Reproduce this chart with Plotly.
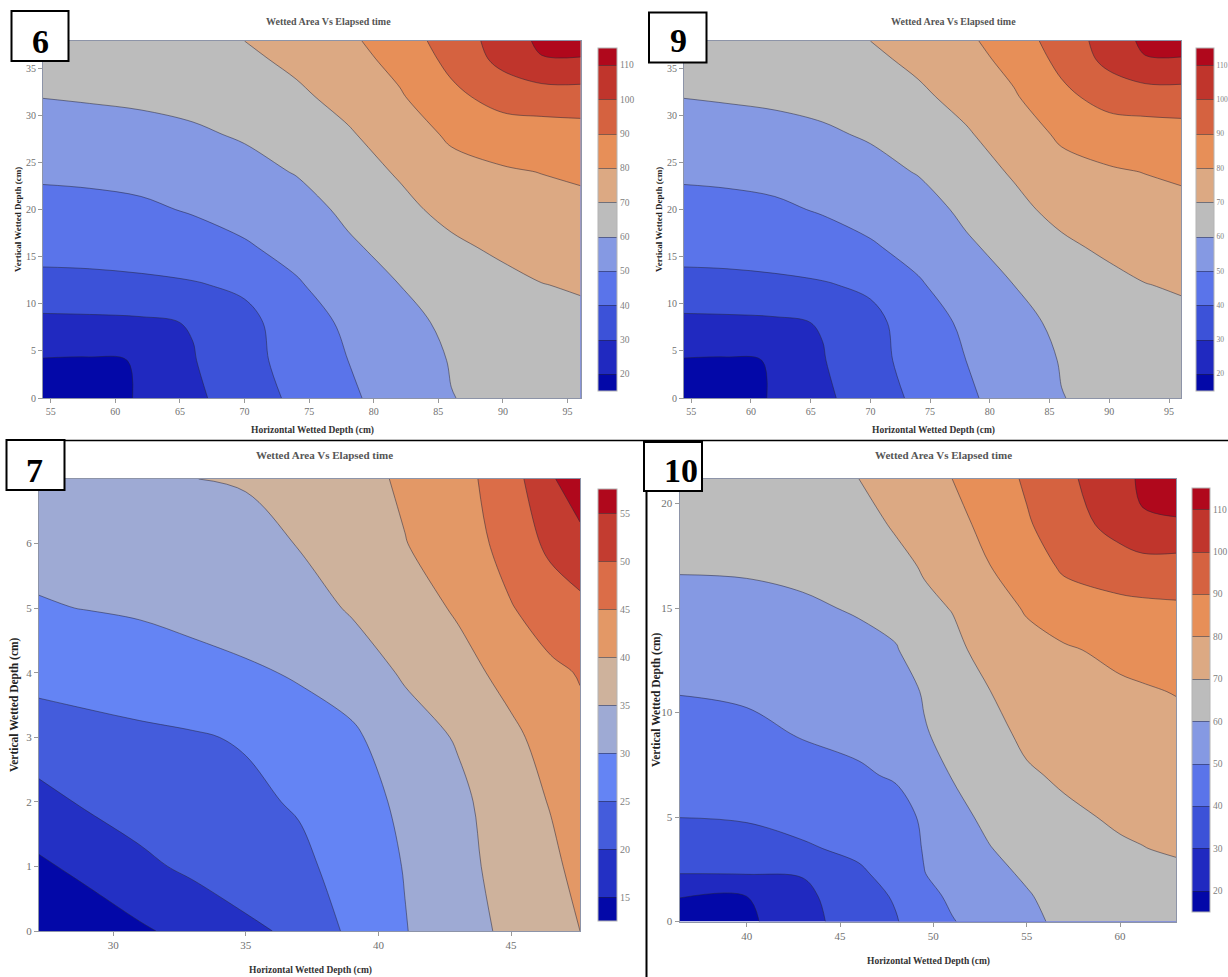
import plotly.graph_objects as go

W = 1228
H = 977

# panels 6 and 9 show the same surface
x_6 = [54.4, 58, 62, 66, 70, 74, 78, 82, 86, 90, 93, 96]
y_6 = [0, 4, 8, 12, 16, 20, 24, 28, 32, 36, 37.9]
y_6_ticks = [0, 5, 10, 15, 20, 25, 30, 35]
z_6 = [
    [12, 17, 20.6, 28, 35, 42, 48.5, 54, 59.8, 62, 64, 65],
    [19.5, 19.2, 20.3, 29.5, 36.5, 44, 50, 55, 60.5, 63.5, 65.5, 66.5],
    [27.8, 28, 28.5, 30.5, 37.5, 44.5, 52, 57, 62, 65, 67, 68],
    [36.8, 37.2, 38, 39.3, 41.5, 49, 55, 60, 64, 67, 69.8, 70.8],
    [43.5, 43.7, 44.5, 45.5, 49, 53, 58.5, 63.5, 68, 72, 73.3, 74.2],
    [47, 47.4, 48.4, 50.8, 53.3, 56, 62, 67.3, 73, 75.6, 76.7, 77.4],
    [51.5, 52, 53, 54.6, 57, 60.5, 65.5, 71, 77, 79, 80.2, 81.5],
    [55.9, 56.4, 57.3, 58.7, 61, 64.4, 69, 75, 81.5, 85, 85.5, 86],
    [60.2, 60.8, 61.5, 62.7, 64.6, 68.3, 73, 79, 87.7, 93.7, 95, 95.5],
    [64.5, 65, 65.7, 66.6, 68.3, 72, 76.5, 83, 92.6, 103, 109.5, 109.3],
    [66, 66.5, 67.2, 68, 70, 74, 78, 85.4, 94, 104.5, 112, 116],
]

x_7 = [27.2, 29, 31, 33, 35, 37, 39, 41, 43, 45, 46.5, 47.6]
y_7 = [0, 1, 2, 3, 4, 5, 6, 7]
y_7_ticks = [0, 1, 2, 3, 4, 5, 6]
z_7 = [
    [10, 12, 14.3, 16.6, 19, 21, 26.1, 29.8, 33.1, 36, 38.3, 40],
    [14.2, 16.3, 19, 20.9, 22.7, 23.8, 27.1, 30.2, 33.6, 36.8, 38.9, 41.5],
    [18.5, 20.6, 22, 22.7, 24, 25.5, 27.9, 31, 34, 37.5, 40.3, 43.2],
    [22.7, 23.6, 24.2, 24.6, 25.4, 28.2, 29.2, 32.8, 35.4, 39, 41.8, 43.8],
    [26.5, 26.8, 27.3, 28.4, 29.4, 30.4, 32.3, 35.6, 38.2, 41.6, 44, 45.3],
    [29.7, 30.1, 30.6, 31.4, 32.1, 32.9, 35.5, 37.7, 40.6, 44.7, 47.7, 48.9],
    [31.2, 31.6, 31.9, 32.9, 33.4, 35.2, 36.8, 39.9, 41.7, 47.3, 51, 53],
    [32.3, 32.8, 33.6, 34.95, 35.4, 37.7, 38.8, 40.5, 43.2, 48, 54.2, 59],
]

x_10 = [36.4, 40, 43, 46, 48, 49.5, 51, 53, 55, 57, 60, 61.2, 63]
y_10 = [0, 1.2, 2.3, 3.5, 5, 7, 9, 11, 13, 15, 17, 19, 21.2]
y_10_ticks = [0, 5, 10, 15, 20]
z_10 = [
    [14, 18, 27, 34.4, 39.5, 44.5, 49.5, 54, 58.4, 61.5, 63.5, 63.7, 64],
    [20.4, 20, 27.5, 36.6, 40.8, 47.2, 51.5, 56, 59.3, 63, 65.2, 65.6, 66.2],
    [30.1, 30.4, 30.6, 38.9, 42.7, 49.8, 53.2, 57.7, 61.1, 64.3, 66.9, 67.4, 68.2],
    [35, 35.4, 39.2, 41.5, 44.9, 50.5, 55, 59.7, 63.1, 66, 69, 69.8, 71],
    [40.1, 41, 42.2, 44.7, 46.5, 51.3, 57.4, 61.8, 65.6, 68.3, 71.2, 71.8, 72.7],
    [43.6, 44.3, 46.6, 48.9, 50.9, 53.5, 60.4, 64.5, 68.9, 71.3, 73.7, 74.3, 75.2],
    [46.9, 47.9, 50.6, 52.1, 53.7, 59.3, 62.8, 67.1, 71.9, 73.9, 76.1, 76.8, 77.7],
    [50.3, 51.3, 53.3, 55, 55.5, 60.8, 65.3, 69.8, 74.7, 76.5, 78.5, 79.2, 80.3],
    [53.9, 54.9, 56.1, 57.9, 59.4, 65.2, 67.8, 73.1, 77.6, 79, 82.1, 83, 84.5],
    [57.2, 57.8, 58.9, 60.7, 63.3, 68.2, 70.3, 76.6, 80.7, 85.2, 87.4, 88, 88.6],
    [60.7, 60.9, 61.8, 63.8, 67.5, 70.8, 73.5, 79.8, 84.8, 91.5, 95.3, 96, 96],
    [62.5, 63, 64.5, 66.7, 71, 73.5, 76.6, 83, 89, 95, 104, 108.8, 108.8],
    [64.5, 65.5, 67, 70, 74, 76.7, 80, 85, 91.3, 98, 106, 112, 116],
]

colors_10 = ["#0308a8", "#2029c0", "#3c52d8", "#5a74ea", "#8599e3", "#bcbcbc",
             "#dca983", "#e78f58", "#d56240", "#c0352c", "#b0081c"]
colors_5 = ["#0308a8", "#2330c4", "#445cdc", "#6484f4", "#9eaad4", "#ceb29c",
            "#e39866", "#db6d48", "#c33c30", "#b0081c"]

title_text = "Wetted Area Vs Elapsed time"
xtitle_text = "Horizontal Wetted Depth (cm)"
ytitle_text = "Vertical Wetted Depth (cm)"

SERIF = "Liberation Serif"


def px(v):
    return v / W


def py(v):
    return 1 - v / H


def scale(colors):
    n = len(colors) - 1
    return [[i / n, c] for i, c in enumerate(colors)]


fig = go.Figure()
shapes = []
notes = []


def note(x, y, text, size, color, bold=True, angle=0):
    if bold:
        text = "<b>" + text + "</b>"
    notes.append(dict(x=px(x), y=py(y), xref="paper", yref="paper", text=text, showarrow=False,
                      textangle=angle, xanchor="center", yanchor="middle",
                      font=dict(family=SERIF, size=size, color=color)))


def panel(n, x, y, z, box, bar, colors, start, end, size, yticks, tickfont, barfont, title_at, xt_at, yt_at, fs):
    left, right, top, bottom = box
    name = "" if n == 1 else str(n)
    fig.add_trace(go.Contour(
        x=x, y=y, z=z, xaxis="x" + name, yaxis="y" + name,
        colorscale=scale(colors), zmin=start - size / 2, zmax=end + size / 2,
        contours=dict(start=start, end=end, size=size, coloring="fill"),
        line=dict(color="rgba(35,35,55,0.5)", width=1, smoothing=1),
        colorbar=dict(x=px(bar[0]), xanchor="left", xpad=0, ypad=0,
                      y=py(bar[2]), yanchor="top", lenmode="fraction", len=(bar[3] - bar[2]) / H,
                      thicknessmode="pixels", thickness=bar[1] - bar[0],
                      outlinecolor="#b4b4b4", outlinewidth=1, tick0=start, dtick=size,
                      ticks="", ticklabelposition="outside",
                      tickfont=dict(family=SERIF, size=barfont, color="#808080")),
    ))
    common = dict(showgrid=False, zeroline=False, showline=True, mirror=True, linecolor="#8d94a8", linewidth=1,
                  ticks="outside", ticklen=4, tickcolor="#999999",
                  tickfont=dict(family=SERIF, size=tickfont, color="#707070"))
    fig.update_layout({
        "xaxis" + name: dict(domain=[px(left), px(right)], range=[x[0], x[-1]], dtick=5,
                             anchor="y" + name, **common),
        "yaxis" + name: dict(domain=[py(bottom), py(top)], range=[y[0], y[-1]], tickvals=yticks,
                             anchor="x" + name, **common),
    })
    note(title_at[0], title_at[1], title_text, fs[0], "#555555")
    note(xt_at[0], xt_at[1], xtitle_text, fs[1], "#333333")
    note(yt_at[0], yt_at[1], ytitle_text, fs[2], "#222222", angle=-90)


panel(1, x_6, y_6, z_6, (43, 580.5, 41, 398), (598, 617, 48, 391), colors_10, 20, 110, 10, y_6_ticks, 10, 9.5,
      (328, 22), (312, 430), (18, 220), (10, 9.5, 9))
panel(2, x_6, y_6, z_6, (684, 1181, 41, 398), (1196, 1214, 48, 391), colors_10, 20, 110, 10, y_6_ticks, 10, 7.5,
      (953, 22), (933, 430), (659, 220), (10, 9.5, 9))
panel(3, x_7, y_7, z_7, (39, 580, 479, 931), (598, 617, 489, 921), colors_5, 15, 55, 5, y_7_ticks, 11, 10,
      (324, 455), (310, 970), (14, 705), (11, 9.5, 11.5))
panel(4, x_10, y_10, z_10, (679.5, 1176, 478.5, 921.5), (1192, 1210, 488, 912), colors_10, 20, 110, 10, y_10_ticks, 11, 9.5,
      (943, 455), (928, 961), (656, 700), (11, 9.5, 11.5))

# black separators between the panels
shapes.append(dict(type="line", xref="paper", yref="paper", x0=px(6), x1=px(W), y0=py(440.5), y1=py(440.5),
                   line=dict(color="black", width=1.5)))
shapes.append(dict(type="line", xref="paper", yref="paper", x0=px(646.5), x1=px(646.5), y0=py(491), y1=py(H),
                   line=dict(color="black", width=2)))

# number boxes
boxes = [("6", 11.5, 68.5, 11, 61, 40, 41), ("9", 649, 706.5, 12.5, 62.5, 678, 40),
         ("7", 6.5, 64.5, 440, 490, 34, 470), ("10", 644, 702, 442, 491, 681, 470)]
for label, x0, x1, y0, y1, tx, ty in boxes:
    shapes.append(dict(type="rect", xref="paper", yref="paper", x0=px(x0), x1=px(x1), y0=py(y0), y1=py(y1),
                       fillcolor="white", line=dict(color="black", width=2)))
    note(tx, ty, label, 34, "black")

fig.update_layout(width=W, height=H, margin=dict(l=0, r=0, t=0, b=0, autoexpand=False), autosize=False,
                  paper_bgcolor="white", plot_bgcolor="white", showlegend=False,
                  shapes=shapes, annotations=notes)

fig.write_html("out.html", config={"displayModeBar": False},
               post_script="document.body.style.margin='0';document.body.style.overflow='hidden';")
